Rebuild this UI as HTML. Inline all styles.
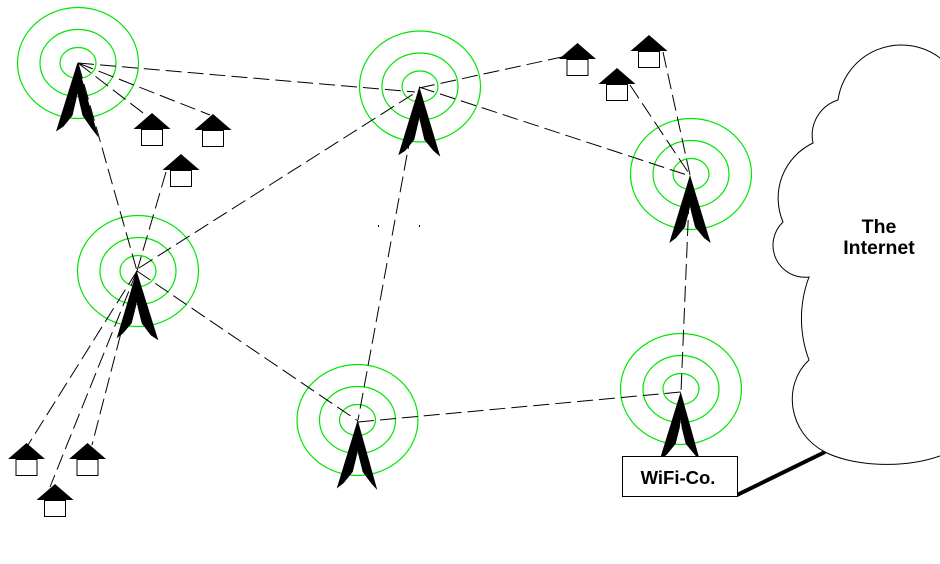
<!DOCTYPE html>
<html><head><meta charset="utf-8"><style>
html,body{margin:0;padding:0;background:#fff;}
svg{display:block;}
text{font-family:"Liberation Sans",Arial,sans-serif;font-weight:bold;}
</style></head><body>
<svg width="940" height="564" viewBox="0 0 940 564" xmlns="http://www.w3.org/2000/svg">
<rect width="940" height="564" fill="#fff"/>
<!-- circles -->
<g fill="none" stroke="#00e600" stroke-width="1.2">
<ellipse cx="78" cy="63" rx="60.5" ry="55.5"/><ellipse cx="78" cy="63" rx="38" ry="33.5"/><ellipse cx="78" cy="63" rx="18" ry="15.5"/>
<ellipse cx="420" cy="86.5" rx="60.5" ry="55.5"/><ellipse cx="420" cy="86.5" rx="38" ry="33.5"/><ellipse cx="420" cy="86.5" rx="18" ry="15.5"/>
<ellipse cx="691" cy="174" rx="60.5" ry="55.5"/><ellipse cx="691" cy="174" rx="38" ry="33.5"/><ellipse cx="691" cy="174" rx="18" ry="15.5"/>
<ellipse cx="138" cy="271" rx="60.5" ry="55.5"/><ellipse cx="138" cy="271" rx="38" ry="33.5"/><ellipse cx="138" cy="271" rx="18" ry="15.5"/>
<ellipse cx="357.5" cy="420" rx="60.5" ry="55.5"/><ellipse cx="357.5" cy="420" rx="38" ry="33.5"/><ellipse cx="357.5" cy="420" rx="18" ry="15.5"/>
<ellipse cx="681" cy="389" rx="60.5" ry="55.5"/><ellipse cx="681" cy="389" rx="38" ry="33.5"/><ellipse cx="681" cy="389" rx="18" ry="15.5"/>
</g>
<!-- dashed links -->
<g stroke="#000" stroke-width="1" stroke-dasharray="16 6" fill="none">
<line x1="78" y1="63" x2="415" y2="92"/>
<line x1="78" y1="63" x2="137" y2="271"/>
<line x1="78" y1="63" x2="147" y2="116"/>
<line x1="78" y1="63" x2="210" y2="115"/>
<line x1="166" y1="172" x2="137" y2="271"/>
<line x1="139" y1="268" x2="418" y2="91"/>
<line x1="137" y1="271" x2="358" y2="421"/>
<line x1="419" y1="90" x2="358" y2="420"/>
<line x1="419" y1="88" x2="562" y2="57"/>
<line x1="419" y1="87" x2="690" y2="176"/>
<line x1="663" y1="52" x2="690" y2="175"/>
<line x1="630" y1="85" x2="690" y2="175"/>
<line x1="690" y1="176" x2="681" y2="392"/>
<line x1="358" y1="422" x2="681" y2="392"/>
<line x1="137" y1="271" x2="28" y2="445"/>
<line x1="137" y1="271" x2="92" y2="445"/>
<line x1="137" y1="271" x2="50" y2="487"/>
</g>
<rect x="378" y="225" width="1" height="2" fill="#000"/>
<rect x="419" y="225" width="1" height="2" fill="#000"/>
<!-- towers -->
<g fill="#000">
<path transform="translate(77.5,62.5)" d="M0,0 L-21.5,69 L-14,64 L-5,53 L-1,36 L0,31 L1,36 L5,53 L14,66 L21,75 Z"/>
<path transform="translate(419.3,86.7)" d="M0,0 L-21,68.5 L-14,64 L-5,53 L-1,36 L0,31 L1,36 L5,53 L14,64 L21,70 Z"/>
<path transform="translate(690,175)" d="M0,0 L-20.7,68 L-14,63 L-5,52 L-1,36 L0,31 L1,36 L5,52 L14,63 L20.7,68 Z"/>
<path transform="translate(136.7,271.2)" d="M0,0 L-20,67 L-13.5,62 L-5,52 L-1,36 L0,31 L1,36 L5,52 L14,64 L21.6,69 Z"/>
<path transform="translate(357.7,420)" d="M0,0 L-21,68.5 L-14,63 L-5,52 L-1,36 L0,31 L1,36 L5,52 L14,64 L19.6,70 Z"/>
<path transform="translate(680.7,391.7)" d="M0,0 L-21,68 L-14,63 L-5,52 L-1,36 L0,28 L1,36 L5,52 L14,63 L19,68 Z"/>
</g>
<!-- houses -->
<g stroke="#000" stroke-width="1">
<g transform="translate(152,113)"><polygon points="-18.5,16 0,0 18.5,16" fill="#000" stroke="none"/><rect x="-10.5" y="16.5" width="21" height="16" fill="#fff"/></g>
<g transform="translate(213,114)"><polygon points="-18.5,16 0,0 18.5,16" fill="#000" stroke="none"/><rect x="-10.5" y="16.5" width="21" height="16" fill="#fff"/></g>
<g transform="translate(181,154)"><polygon points="-18.5,16 0,0 18.5,16" fill="#000" stroke="none"/><rect x="-10.5" y="16.5" width="21" height="16" fill="#fff"/></g>
<g transform="translate(577.5,43)"><polygon points="-18.5,16 0,0 18.5,16" fill="#000" stroke="none"/><rect x="-10.5" y="16.5" width="21" height="16" fill="#fff"/></g>
<g transform="translate(649,35)"><polygon points="-18.5,16 0,0 18.5,16" fill="#000" stroke="none"/><rect x="-10.5" y="16.5" width="21" height="16" fill="#fff"/></g>
<g transform="translate(617,68)"><polygon points="-18.5,16 0,0 18.5,16" fill="#000" stroke="none"/><rect x="-10.5" y="16.5" width="21" height="16" fill="#fff"/></g>
<g transform="translate(26.5,443)"><polygon points="-18.5,16 0,0 18.5,16" fill="#000" stroke="none"/><rect x="-10.5" y="16.5" width="21" height="16" fill="#fff"/></g>
<g transform="translate(87.5,443)"><polygon points="-18.5,16 0,0 18.5,16" fill="#000" stroke="none"/><rect x="-10.5" y="16.5" width="21" height="16" fill="#fff"/></g>
<g transform="translate(55,484)"><polygon points="-18.5,16 0,0 18.5,16" fill="#000" stroke="none"/><rect x="-10.5" y="16.5" width="21" height="16" fill="#fff"/></g>
</g>
<!-- thick link -->
<line x1="737" y1="495" x2="825" y2="452" stroke="#000" stroke-width="4"/>
<!-- cloud -->
<path d="M960,58 L940,58 A64 64 0 0 0 838,100 A37 37 0 0 0 813,143 A61 61 0 0 0 783,222 A32 32 0 0 0 809,277 A118 118 0 0 0 809,360 C782,385 788,433 825,452 C850,465 900,470 940,456 L960,456 Z" fill="#fff" stroke="#000" stroke-width="1"/>
<text x="879" y="233" font-size="19.5" text-anchor="middle">The</text>
<text x="879" y="254" font-size="19.5" text-anchor="middle">Internet</text>
<!-- WiFi-Co box -->
<rect x="622.5" y="456.5" width="115" height="40" fill="#fff" stroke="#000" stroke-width="1"/>
<text x="678" y="484" font-size="18.5" text-anchor="middle">WiFi-Co.</text>
</svg>
</body></html>
